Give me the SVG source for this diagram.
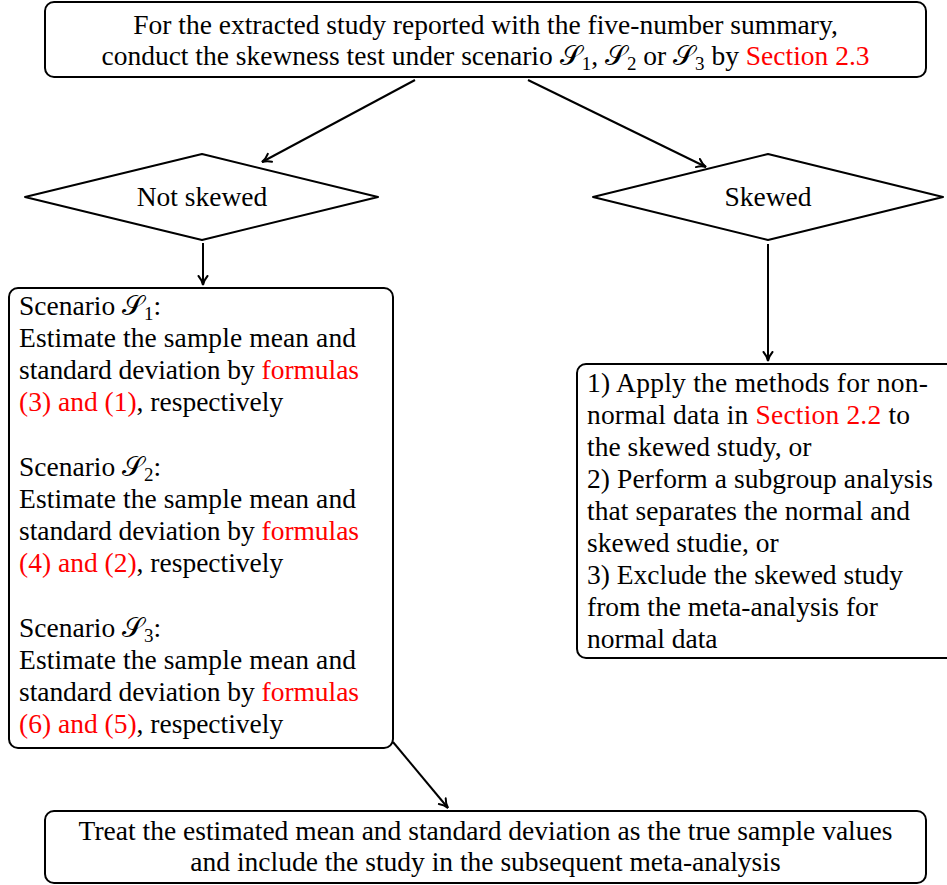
<svg xmlns="http://www.w3.org/2000/svg" width="947" height="885" viewBox="0 0 947 885">
<defs>
<marker id="ah" viewBox="0 0 12 12" refX="10" refY="6" markerWidth="12" markerHeight="12" markerUnits="userSpaceOnUse" orient="auto">
<path d="M1,1.5 Q5,5 10,6 Q5,7 1,10.5" fill="none" stroke="#000" stroke-width="2" stroke-linecap="round"/>
</marker>
<style>
.box{fill:#fff;stroke:#000;stroke-width:2}
.t{font-size:27.5px;fill:#000}
.r{fill:#ff0000}
.c{stroke:#000;stroke-width:2;fill:none}
.s{font-family:"DejaVu Serif","Noto Sans",serif}
.sub{font-size:19px}
</style>
</defs>
<rect width="947" height="885" fill="#fff"/>
<g id="connectors">
<line class="c" x1="415" y1="80" x2="262" y2="162" marker-end="url(#ah)"/>
<line class="c" x1="528" y1="80" x2="706" y2="167" marker-end="url(#ah)"/>
<line class="c" x1="203" y1="243" x2="203" y2="285" marker-end="url(#ah)"/>
<line class="c" x1="768" y1="244" x2="768" y2="361" marker-end="url(#ah)"/>
<line class="c" x1="393" y1="742" x2="448" y2="808" marker-end="url(#ah)"/>
</g>
<g font-family="'Liberation Serif', 'Times New Roman', serif">
<g id="start">
<rect class="box" x="45" y="2" width="881" height="75" rx="9"/>
<text class="t" x="485.5" y="34" text-anchor="middle">For the extracted study reported with the five-number summary,</text>
<text class="t" x="485.5" y="65" text-anchor="middle">conduct the skewness test under scenario <tspan class="s">𝒮</tspan><tspan class="sub" dy="5">1</tspan><tspan dy="-5">, </tspan><tspan class="s">𝒮</tspan><tspan class="sub" dy="5">2</tspan><tspan dy="-5"> or </tspan><tspan class="s">𝒮</tspan><tspan class="sub" dy="5">3</tspan><tspan dy="-5"> by </tspan><tspan class="r">Section 2.3</tspan></text>
</g>
<g id="not-skewed">
<path class="box" d="M202,154 L378,197 L202,240 L25,197 Z" stroke-linejoin="round"/>
<text class="t" x="202" y="206" text-anchor="middle">Not skewed</text>
</g>
<g id="skewed">
<path class="box" d="M768,154 L943,197 L768,240 L593,197 Z" stroke-linejoin="round"/>
<text class="t" x="768" y="206" text-anchor="middle">Skewed</text>
</g>
<g id="scenarios">
<rect class="box" x="9" y="288" width="384" height="460" rx="9"/>
<text class="t" x="19" y="315">Scenario <tspan class="s">𝒮</tspan><tspan class="sub" dy="5">1</tspan><tspan dy="-5">:</tspan></text>
<text class="t" x="19" y="347" textLength="337" lengthAdjust="spacing">Estimate the sample mean and</text>
<text class="t" x="19" y="379" textLength="340" lengthAdjust="spacing">standard deviation by <tspan class="r">formulas</tspan></text>
<text class="t" x="19" y="411"><tspan class="r">(3) and (1)</tspan>, respectively</text>
<text class="t" x="19" y="476">Scenario <tspan class="s">𝒮</tspan><tspan class="sub" dy="5">2</tspan><tspan dy="-5">:</tspan></text>
<text class="t" x="19" y="508" textLength="337" lengthAdjust="spacing">Estimate the sample mean and</text>
<text class="t" x="19" y="540" textLength="340" lengthAdjust="spacing">standard deviation by <tspan class="r">formulas</tspan></text>
<text class="t" x="19" y="572"><tspan class="r">(4) and (2)</tspan>, respectively</text>
<text class="t" x="19" y="637">Scenario <tspan class="s">𝒮</tspan><tspan class="sub" dy="5">3</tspan><tspan dy="-5">:</tspan></text>
<text class="t" x="19" y="669" textLength="337" lengthAdjust="spacing">Estimate the sample mean and</text>
<text class="t" x="19" y="701" textLength="340" lengthAdjust="spacing">standard deviation by <tspan class="r">formulas</tspan></text>
<text class="t" x="19" y="733"><tspan class="r">(6) and (5)</tspan>, respectively</text>
</g>
<g id="skewed-options">
<rect class="box" x="577" y="364" width="380" height="294" rx="9"/>
<text class="t" x="587" y="392" textLength="341" lengthAdjust="spacing">1) Apply the methods for non-</text>
<text class="t" x="587" y="424" textLength="323" lengthAdjust="spacing">normal data in <tspan class="r">Section 2.2</tspan> to</text>
<text class="t" x="587" y="456">the skewed study, or</text>
<text class="t" x="587" y="488" textLength="346" lengthAdjust="spacing">2) Perform a subgroup analysis</text>
<text class="t" x="587" y="520" textLength="323" lengthAdjust="spacing">that separates the normal and</text>
<text class="t" x="587" y="552">skewed studie, or</text>
<text class="t" x="587" y="584" textLength="316" lengthAdjust="spacing">3) Exclude the skewed study</text>
<text class="t" x="587" y="616" textLength="291" lengthAdjust="spacing">from the meta-analysis for</text>
<text class="t" x="587" y="648">normal data</text>
</g>
<g id="final">
<rect class="box" x="45" y="811" width="881" height="72" rx="9"/>
<text class="t" x="485.5" y="840" text-anchor="middle">Treat the estimated mean and standard deviation as the true sample values</text>
<text class="t" x="485.5" y="871" text-anchor="middle">and include the study in the subsequent meta-analysis</text>
</g>
</g>
</svg>
